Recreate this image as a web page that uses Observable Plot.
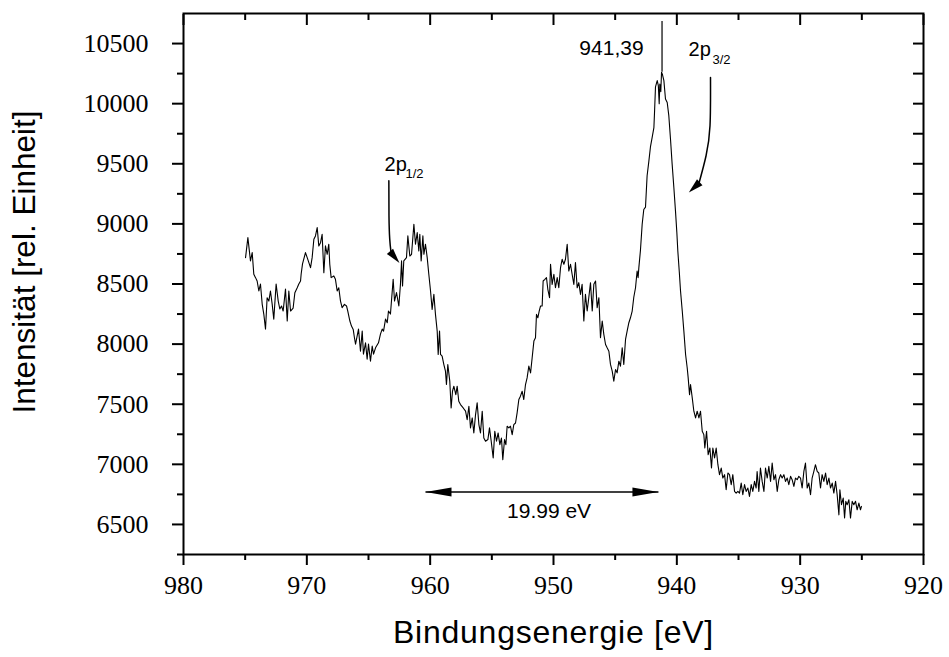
<!DOCTYPE html>
<html>
<head>
<meta charset="utf-8">
<script src="https://cdn.jsdelivr.net/npm/d3@7"></script>
<script src="https://cdn.jsdelivr.net/npm/@observablehq/plot@0.6"></script>
<style>
  html, body { margin: 0; padding: 0; background: #fff; }
  #chart svg { display: block; }
</style>
</head>
<body>
<div id="chart"></div>
<script>
// ---------- data ----------
const energy = [
974.97,974.78,974.57,974.43,974.30,974.16,974.03,973.89,973.76,973.62,973.49,973.35,973.22,973.08,972.95,972.81,972.68,972.49,972.32,972.19,
972.05,971.92,971.73,971.59,971.46,971.32,971.11,970.97,970.78,970.65,970.51,970.46,970.35,970.11,969.97,969.70,969.57,969.43,969.30,969.16,
969.03,968.89,968.76,968.62,968.49,968.35,968.22,968.14,968.03,967.81,967.68,967.54,967.41,967.27,967.14,966.95,966.78,966.68,966.51,966.38,
966.24,966.14,966.05,965.81,965.65,965.51,965.41,965.24,965.11,965.00,964.84,964.70,964.59,964.43,964.19,964.03,963.89,963.78,963.62,963.48,
963.38,963.22,963.00,962.89,962.73,962.54,962.41,962.32,962.24,962.14,961.92,961.81,961.65,961.51,961.32,961.19,961.05,960.92,960.84,960.73,
960.59,960.51,960.38,960.24,960.11,959.97,959.84,959.70,959.57,959.43,959.35,959.24,959.16,959.03,958.89,958.76,958.68,958.57,958.41,958.30,
958.19,958.08,957.92,957.81,957.68,957.54,957.32,957.13,957.00,956.86,956.73,956.59,956.46,956.32,956.19,956.05,955.92,955.78,955.65,955.51,
955.32,955.19,955.05,954.89,954.76,954.62,954.49,954.35,954.22,954.11,953.97,953.86,953.76,953.62,953.49,953.35,953.22,953.08,952.95,952.81,
952.68,952.54,952.41,952.27,952.14,952.00,951.86,951.73,951.59,951.46,951.38,951.27,951.16,951.05,950.92,950.84,950.70,950.57,950.46,950.32,
950.24,950.11,949.97,949.84,949.70,949.57,949.43,949.30,949.16,949.03,948.89,948.76,948.62,948.49,948.35,948.22,948.08,947.95,947.81,947.68,
947.54,947.41,947.27,947.14,947.00,946.86,946.73,946.59,946.46,946.32,946.19,946.05,945.92,945.78,945.65,945.51,945.38,945.24,945.11,944.97,
944.84,944.70,944.57,944.43,944.30,944.16,944.03,943.89,943.76,943.62,943.49,943.35,943.22,943.14,943.08,942.95,942.81,942.68,942.54,942.41,
942.27,942.14,942.00,941.86,941.80,941.73,941.59,941.50,941.43,941.38,941.30,941.24,941.16,941.05,940.92,940.78,940.65,940.51,940.38,940.24,
940.11,940.00,939.92,939.80,939.70,939.56,939.43,939.29,939.16,939.08,938.97,938.89,938.75,938.62,938.48,938.35,938.21,938.08,937.94,937.81,
937.73,937.59,937.46,937.32,937.19,937.08,936.94,936.81,936.67,936.54,936.40,936.27,936.13,936.00,935.86,935.73,935.59,935.46,935.32,935.19,
935.05,934.92,934.78,934.65,934.51,934.38,934.24,934.11,933.97,933.84,933.70,933.57,933.49,933.35,933.22,933.08,932.94,932.81,932.67,932.54,
932.40,932.27,932.13,932.00,931.86,931.73,931.59,931.46,931.32,931.19,931.05,930.92,930.78,930.65,930.51,930.38,930.24,930.11,929.97,929.84,
929.70,929.57,929.43,929.30,929.16,929.03,928.89,928.76,928.62,928.49,928.35,928.22,928.08,927.94,927.81,927.67,927.54,927.40,927.27,927.13,
927.00,926.86,926.78,926.65,926.51,926.40,926.30,926.19,926.05,925.92,925.78,925.65,925.51,925.38,925.24,925.11,925.03
];
const intensity = [
8719,8886,8692,8761,8581,8553,8525,8442,8500,8333,8250,8125,8386,8358,8442,8333,8208,8500,8358,8292,
8317,8275,8458,8192,8442,8275,8300,8428,8469,8500,8525,8583,8667,8761,8719,8636,8719,8872,8900,8969,
8817,8844,8914,8594,8817,8747,8831,8664,8553,8567,8539,8442,8469,8358,8303,8331,8317,8275,8192,8150,
8122,8053,8000,8125,7942,8108,7917,8011,7875,8000,7858,7983,7917,7969,8011,8083,8125,8108,8208,8178,
8275,8250,8539,8358,8428,8317,8497,8692,8483,8692,8719,8900,8733,8747,8997,8831,8928,8775,8914,8692,
8900,8747,8831,8719,8581,8442,8289,8414,8247,8108,7914,8108,7914,7900,7830,7775,7664,7830,7692,7469,
7608,7650,7580,7650,7525,7497,7469,7442,7372,7483,7303,7386,7261,7414,7511,7331,7261,7442,7219,7192,
7206,7303,7192,7053,7275,7192,7261,7164,7219,7039,7206,7164,7317,7303,7317,7247,7331,7344,7428,7539,
7567,7608,7539,7664,7719,7817,7761,7886,8025,8053,8247,8219,8275,8317,8317,8525,8539,8553,8456,8386,
8664,8497,8581,8469,8553,8469,8636,8706,8664,8706,8831,8608,8664,8581,8497,8678,8469,8511,8414,8497,
8192,8414,8275,8386,8511,8275,8497,8525,8303,8386,8053,8192,8081,7997,7969,7941,7831,7775,7692,7789,
7761,7858,7817,7969,7831,8039,8108,8178,8219,8275,8390,8469,8608,8553,8636,8780,8997,9120,9140,9400,
9520,9640,9720,9800,9950,10140,10192,10150,10000,10164,10100,10261,10240,10192,10039,10010,9900,9700,9497,9300,
9108,8930,8775,8600,8442,8275,8108,7914,7803,7719,7580,7664,7553,7442,7386,7442,7386,7442,7275,7247,
7136,7275,7080,7136,6969,7136,7053,7136,6997,6914,6969,6886,6914,6789,6928,6914,6831,6914,6775,6761,
6775,6761,6844,6747,6831,6775,6803,6733,6831,6775,6858,6803,6941,6775,6969,6858,6775,6969,6886,6983,
6858,7011,6872,6914,6775,6872,6914,6886,6914,6858,6886,6831,6900,6872,6817,6886,6872,6900,6886,6803,
6941,7011,6803,6844,6747,6886,6941,6997,6941,6928,6803,6914,6858,6928,6831,6886,6803,6844,6761,6858,
6747,6580,6789,6664,6719,6553,6692,6664,6705,6553,6692,6664,6692,6622,6678,6622,6650
];

// axis ticks and titles
const xMajorTicks = [980, 970, 960, 950, 940, 930, 920];
const xMinorTicks = [975, 965, 955, 945, 935, 925];
const yMajorTicks = [6500, 7000, 7500, 8000, 8500, 9000, 9500, 10000, 10500];
const yMinorTicks = [6250, 6750, 7250, 7750, 8250, 8750, 9250, 9750, 10250];
const yRightTicks = [6500, 6750, 7000, 7250, 7500, 7750, 8000, 8250, 8500, 8750, 9000, 9250, 9500, 9750, 10000, 10250, 10500];
const xTitle = "Bindungsenergie [eV]";
const yTitle = "Intensität [rel. Einheit]";

// annotations
const peakMarkE = [941.2];
const peakMarkLow = [10261];
const peakMarkHigh = [10683];

const centerNotes = ["941,39", "19.99 eV"];
const centerNoteE = [945.3, 950.36];
const centerNoteI = [10408, 6550];

const levelNotes = ["2p", "2p"];
const levelNoteE = [939.05, 963.70];
const levelNoteI = [10400, 9442];
const levelSubs = ["3/2", "1/2"];
const levelSubE = [937.11, 962.0];
const levelSubI = [10333, 9383];

const shaftId = ["2p3/2", "2p3/2", "2p3/2", "2p3/2", "2p1/2", "2p1/2", "2p1/2", "2p1/2"];
const shaftE = [937.27, 937.31, 937.63, 938.20, 963.35, 963.34, 963.28, 963.18];
const shaftI = [10217, 9817, 9567, 9340, 9358, 9067, 8875, 8768];

const spanE = [960.38, 941.49];
const spanI = [6769, 6769];

const headE = [939.03, 962.49, 960.38, 941.49];
const headI = [9261, 8675, 6769, 6769];

// ---------- build ----------
const spectrum = energy.map((E, i) => ({E, I: intensity[i]}));
const shafts = shaftE.map((E, i) => ({E, I: shaftI[i], id: shaftId[i]}));

function headSymbol(ux, uy, len, wid) {
  const n = Math.hypot(ux, uy); ux /= n; uy /= n;
  const bx = -ux * len, by = -uy * len, px = -uy * wid / 2, py = ux * wid / 2;
  return {draw(ctx) { ctx.moveTo(0, 0); ctx.lineTo(bx + px, by + py); ctx.lineTo(bx - px, by - py); ctx.closePath(); }};
}
const headShapes = [
  headSymbol(-10.7, 10, 15, 8),
  headSymbol(9, 11, 15, 8),
  headSymbol(-1, 0, 26, 9),
  headSymbol(1, 0, 26, 9)
];

const sans = "Liberation Sans";
const serif = "Liberation Serif";

const chart = Plot.plot({
  width: 949,
  height: 657,
  marginLeft: 183,
  marginRight: 26,
  marginTop: 13,
  marginBottom: 103,
  x: {domain: [980, 920]},
  y: {domain: [6250, 10750]},
  style: {fontFamily: serif, fontSize: "26px", color: "black", background: "white", overflow: "visible"},
  marks: [
    // ticks (outward on left/bottom, inward on top/right)
    Plot.axisY({anchor: "left", ticks: yMajorTicks, tickSize: 11, strokeWidth: 2, fill: "none", stroke: "black", label: null}),
    Plot.axisY({anchor: "left", ticks: yMinorTicks, tickSize: 6, strokeWidth: 2, fill: "none", stroke: "black", label: null}),
    Plot.axisX({anchor: "bottom", ticks: xMajorTicks, tickSize: 11, strokeWidth: 2, fill: "none", stroke: "black", label: null}),
    Plot.axisX({anchor: "bottom", ticks: xMinorTicks, tickSize: 6, strokeWidth: 2, fill: "none", stroke: "black", label: null}),
    Plot.axisX({anchor: "top", ticks: xMajorTicks, tickSize: 11, dy: 11, strokeWidth: 2, fill: "none", stroke: "black", label: null}),
    Plot.axisX({anchor: "top", ticks: xMinorTicks, tickSize: 6, dy: 6, strokeWidth: 2, fill: "none", stroke: "black", label: null}),
    Plot.axisY({anchor: "right", ticks: yRightTicks, tickSize: 11, dx: -11, strokeWidth: 2, fill: "none", stroke: "black", label: null}),
    Plot.frame({stroke: "black", strokeWidth: 2}),

    // tick labels (serif)
    Plot.text(yMajorTicks, {y: d => d, text: d => String(d), frameAnchor: "left", dx: -35, textAnchor: "end",
      lineAnchor: "middle", fontFamily: serif, fontSize: 26, fill: "black"}),
    Plot.text(xMajorTicks, {x: d => d, text: d => String(d), frameAnchor: "bottom", dy: 21.5, textAnchor: "middle",
      lineAnchor: "top", fontFamily: serif, fontSize: 26, fill: "black"}),

    // spectrum
    Plot.line(spectrum, {x: "E", y: "I", stroke: "black", strokeWidth: 1.1}),

    // peak marker
    Plot.ruleX(peakMarkE, {x: d => d, y1: peakMarkLow, y2: peakMarkHigh, stroke: "black", strokeWidth: 1.2}),

    // arrow shafts
    Plot.line(shafts, {x: "E", y: "I", z: "id", curve: "natural", stroke: "black", strokeWidth: 1.5}),
    Plot.link([0], {x1: spanE[0], x2: spanE[1], y1: spanI[0], y2: spanI[1], stroke: "black", strokeWidth: 1.5}),
    ...headE.map((E, i) => Plot.dot([{E, I: headI[i]}], {x: "E", y: "I", symbol: headShapes[i], fill: "black", stroke: "none"})),

    // notes
    Plot.text(centerNotes, {x: centerNoteE, y: centerNoteI, text: d => d, textAnchor: "middle", lineAnchor: "bottom",
      fontFamily: sans, fontSize: 21, fill: "black"}),
    Plot.text(levelNotes, {x: levelNoteE, y: levelNoteI, text: d => d, textAnchor: "start", lineAnchor: "bottom",
      fontFamily: sans, fontSize: 20, fill: "black"}),
    Plot.text(levelSubs, {x: levelSubE, y: levelSubI, text: d => d, textAnchor: "start", lineAnchor: "bottom",
      fontFamily: sans, fontSize: 13, fill: "black"}),

    // axis titles
    Plot.text([xTitle], {text: d => d, frameAnchor: "bottom", dy: 88, lineAnchor: "bottom", textAnchor: "middle",
      fontFamily: sans, fontSize: 32, fill: "black"}),
    Plot.text([yTitle], {text: d => d, frameAnchor: "left", rotate: -90, dx: -148.5, dy: -22, lineAnchor: "bottom",
      textAnchor: "middle", fontFamily: sans, fontSize: 31.5, fill: "black"})
  ]
});

chart.querySelectorAll("text").forEach(t => {
  if (t.textContent === xTitle) t.setAttribute("letter-spacing", "0.75px");
});

document.getElementById("chart").appendChild(chart);
</script>
</body>
</html>
